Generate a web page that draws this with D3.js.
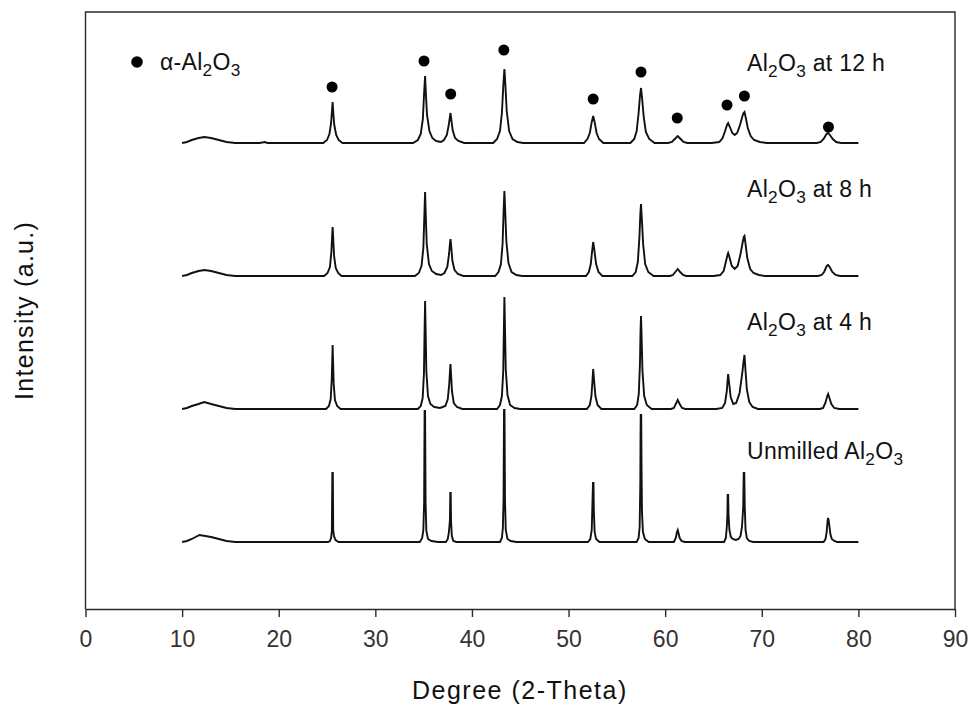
<!DOCTYPE html>
<html>
<head>
<meta charset="utf-8">
<script src="https://cdn.jsdelivr.net/npm/d3@7/dist/d3.min.js"></script>
<style>
  html, body { margin: 0; padding: 0; background: #ffffff; }
  svg { display: block; }
  text { font-family: "Liberation Sans", Arial, sans-serif; }
</style>
</head>
<body>
<svg id="chart" width="971" height="709"></svg>
<script>
// ---------- DATA (2-theta in degrees, intensity in a.u. above each pattern's baseline) ----------
const xTicks = [0, 10, 20, 30, 40, 50, 60, 70, 80, 90];

const pattern12h = [
  [10,0],[10.5,1],[11,3],[11.7,5],[12.3,6],[13,5],[13.8,3],[14.6,1],[15.5,0],[18,0],[18.6,1],[18.8,0],[22,0],
  [24.6,0],[25.0,3],[25.25,9],[25.42,20],[25.52,33],[25.58,41],[25.65,30],[25.75,18],[25.95,8],[26.2,3],[26.6,0],
  [28,0],[30,0],[33,0],
  [33.9,0],[34.4,3],[34.7,9],[34.92,24],[35.05,50],[35.15,67],[35.22,52],[35.35,28],[35.6,12],[35.9,5],[36.3,2],[36.8,1],
  [37.1,3],[37.4,8],[37.6,18],[37.72,26],[37.78,30],[37.86,24],[38.0,13],[38.25,5],[38.6,2],[39.2,0],
  [41,0],
  [42.2,0],[42.6,4],[42.9,12],[43.1,30],[43.25,58],[43.36,74],[43.45,60],[43.6,32],[43.85,12],[44.2,4],[44.7,1],[45.3,0],
  [48,0],[50.5,0],
  [51.6,0],[51.95,4],[52.2,10],[52.38,20],[52.55,27],[52.7,21],[52.9,10],[53.15,4],[53.6,0],
  [55.5,0],
  [56.4,0],[56.8,4],[57.05,12],[57.25,30],[57.4,48],[57.5,55],[57.6,46],[57.78,26],[58.0,11],[58.35,4],[58.9,0],
  [60.3,0],
  [60.7,1],[61.0,4],[61.3,7],[61.6,4],[61.9,1],[62.3,0],
  [64.8,0],
  [65.6,1],[65.95,5],[66.2,12],[66.4,18],[66.52,20],[66.7,16],[66.95,10],[67.2,8],[67.45,10],[67.75,18],[68.0,27],[68.12,30],[68.21,31],[68.35,25],[68.55,15],[68.85,7],[69.2,3],[69.8,1],[70.5,0],
  [74,0],[75.7,0],
  [76.1,1],[76.4,4],[76.7,9],[76.87,10],[77.05,8],[77.35,4],[77.7,1],[78.2,0],[80,0]
];

const pattern8h = [
  [10,0],[10.5,1],[11,3],[11.7,5],[12.3,6],[13,5],[13.8,3],[14.6,1],[15.5,0],[22,0],
  [24.7,0],[25.05,3],[25.3,9],[25.45,24],[25.53,40],[25.58,49],[25.64,38],[25.73,20],[25.9,8],[26.15,3],[26.5,0],
  [30,0],[33.5,0],
  [34.1,0],[34.5,3],[34.78,10],[34.97,28],[35.08,62],[35.15,84],[35.21,64],[35.32,32],[35.55,12],[35.85,5],[36.3,2],[36.8,1],
  [37.15,3],[37.45,9],[37.63,22],[37.73,33],[37.78,37],[37.85,30],[37.98,15],[38.2,6],[38.55,2],[39.1,0],
  [41.5,0],
  [42.4,0],[42.75,4],[43.0,12],[43.17,32],[43.28,65],[43.36,85],[43.43,68],[43.56,35],[43.78,13],[44.1,4],[44.6,1],[45.2,0],
  [50.8,0],
  [51.8,0],[52.1,4],[52.3,12],[52.44,25],[52.55,34],[52.67,26],[52.85,12],[53.1,4],[53.5,0],
  [56,0],
  [56.6,0],[56.95,4],[57.17,14],[57.33,38],[57.43,62],[57.5,72],[57.58,58],[57.72,32],[57.93,12],[58.25,4],[58.8,0],
  [60.5,0],
  [60.8,1],[61.05,4],[61.3,7],[61.55,4],[61.85,1],[62.2,0],
  [65,0],
  [65.7,1],[66.05,5],[66.28,14],[66.45,21],[66.52,23],[66.65,19],[66.9,10],[67.2,7],[67.5,10],[67.8,22],[68.03,34],[68.14,39],[68.21,40],[68.32,32],[68.5,18],[68.8,7],[69.15,3],[69.7,1],[70.3,0],
  [75.8,0],
  [76.2,1],[76.45,4],[76.72,10],[76.87,11],[77.03,9],[77.3,4],[77.65,1],[78.1,0],[80,0]
];

const pattern4h = [
  [10,0],[10.5,1],[11,3],[11.7,5],[12.3,7],[13,5],[13.8,3],[14.6,1],[15.5,0],[22,0],
  [24.9,0],[25.2,3],[25.38,10],[25.49,30],[25.55,52],[25.58,64],[25.62,50],[25.69,25],[25.82,9],[26.05,3],[26.4,0],
  [33.8,0],
  [34.4,0],[34.7,3],[34.9,11],[35.03,35],[35.1,80],[35.15,108],[35.2,82],[35.28,38],[35.45,13],[35.7,5],[36.1,2],[36.7,1],
  [37.25,3],[37.5,10],[37.65,25],[37.74,40],[37.78,45],[37.83,36],[37.93,18],[38.12,6],[38.45,2],[39,0],
  [42,0],
  [42.6,0],[42.9,4],[43.1,13],[43.24,38],[43.31,82],[43.36,112],[43.41,86],[43.5,40],[43.68,14],[43.95,4],[44.4,1],[45,0],
  [51.2,0],
  [51.9,0],[52.2,4],[52.37,13],[52.48,29],[52.55,40],[52.63,30],[52.78,13],[53.0,4],[53.4,0],
  [56.3,0],
  [56.8,0],[57.1,4],[57.27,15],[57.39,45],[57.45,78],[57.5,93],[57.55,76],[57.65,38],[57.83,13],[58.1,4],[58.6,0],
  [60.6,0],
  [60.9,1],[61.1,5],[61.3,9],[61.5,5],[61.75,1],[62.1,0],
  [65.3,0],
  [65.9,1],[66.2,6],[66.38,18],[66.48,31],[66.52,35],[66.6,28],[66.78,12],[67.05,5],[67.35,6],[67.7,16],[67.97,35],[68.12,48],[68.21,54],[68.29,42],[68.45,20],[68.7,7],[69.05,2],[69.6,0],
  [76,0],
  [76.35,1],[76.58,6],[76.78,13],[76.87,15],[76.97,12],[77.2,5],[77.5,1],[78,0],[80,0]
];

const patternUnmilled = [
  [10,0],[10.5,1],[11,3],[11.8,7],[12.4,6],[13,5],[13.8,3],[14.6,1],[15.5,0],[22,0],
  [25.1,0],[25.3,1],[25.42,4],[25.5,11],[25.55,69],[25.6,69],[25.64,12],[25.72,6],[25.88,2],[26.2,0],
  [34.6,0],[34.85,4],[34.97,12],[35.05,39],[35.1,131],[35.15,131],[35.2,40],[35.28,11],[35.45,3],[35.8,1],[36.5,0],
  [37.3,0],[37.5,3],[37.62,10],[37.72,22],[37.76,49],[37.8,49],[37.84,20],[37.92,6],[38.08,1],[38.4,0],
  [42.9,0],[43.1,4],[43.2,14],[43.27,42],[43.32,132],[43.37,132],[43.42,42],[43.5,12],[43.68,3],[44.0,1],[44.6,0],
  [52.0,0],[52.25,3],[52.4,12],[52.49,45],[52.53,59],[52.58,59],[52.62,30],[52.7,10],[52.85,3],[53.2,0],
  [57.05,0],[57.25,4],[57.36,15],[57.43,60],[57.45,105],[57.47,127],[57.52,127],[57.55,80],[57.6,30],[57.7,10],[57.9,3],[58.3,0],
  [60.9,0],[61.1,4],[61.22,10],[61.3,12],[61.38,9],[61.5,4],[61.7,1],[62.0,0],
  [66.1,0],[66.28,4],[66.38,15],[66.44,27],[66.47,47],[66.52,47],[66.56,27],[66.65,12],[66.8,5],[67.0,3],[67.3,2],[67.6,3],[67.8,6],[67.95,15],[68.08,35],[68.13,69],[68.19,69],[68.24,35],[68.32,12],[68.45,4],[68.7,1],[69.1,0],
  [76.4,0],[76.6,3],[76.72,10],[76.8,20],[76.86,24],[76.92,22],[77.0,16],[77.1,8],[77.25,3],[77.5,1],[77.8,0],[80,0]
];

// vertical offsets (a.u.) of each pattern's baseline
const patternOffsets = [466, 333, 200, 67];
const patternLabels = [
  { pre: "Al", sub1: "2", mid: "O", sub2: "3", post: " at 12 h" },
  { pre: "Al", sub1: "2", mid: "O", sub2: "3", post: " at 8 h" },
  { pre: "Al", sub1: "2", mid: "O", sub2: "3", post: " at 4 h" },
  { pre: "Unmilled Al", sub1: "2", mid: "O", sub2: "3", post: "" }
];
// alpha-Al2O3 reflection markers: [2-theta, a.u.]
const alphaMarkers = [
  [25.52, 522], [35.04, 548], [37.8, 515], [43.3, 559], [52.55, 510],
  [57.5, 537], [61.25, 491], [66.4, 504], [68.2, 513], [76.9, 482]
];

// ---------- CHART ----------
const svg = d3.select("#chart");
const mLeft = 85.5, mRight = 955, mTop = 12, mBottom = 609;
const labelBaselines = [71, 197, 330, 459];
const x = d3.scaleLinear().domain([0, 90]).range([mLeft, mRight]);
const y = d3.scaleLinear().domain([0, mBottom - mTop]).range([mBottom, mTop]);

const patterns = [pattern12h, pattern8h, pattern4h, patternUnmilled];

// frame (top, right, left)
svg.append("path")
  .attr("d", `M${mLeft},${mBottom}V${mTop}H${mRight}V${mBottom}`)
  .attr("fill", "none").attr("stroke", "#2a2a2a").attr("stroke-width", 1.4);

// x axis
const xAxis = d3.axisBottom(x).tickValues(xTicks).tickSize(8).tickPadding(14).tickSizeOuter(0);
const gx = svg.append("g").attr("transform", `translate(0,${mBottom})`).call(xAxis);
gx.select(".domain").attr("stroke", "#2a2a2a").attr("stroke-width", 1.6);
gx.selectAll(".tick line").attr("stroke", "#2a2a2a").attr("stroke-width", 1.4);
gx.selectAll(".tick text")
  .attr("font-family", "'Liberation Sans', Arial, sans-serif")
  .attr("font-size", 23).attr("fill", "#333");

// patterns
patterns.forEach((p, i) => {
  const line = d3.line().x(d => x(d[0])).y(d => y(d[1] + patternOffsets[i]));
  svg.append("path").datum(p)
    .attr("d", line)
    .attr("fill", "none").attr("stroke", "#111").attr("stroke-width", 1.9)
    .attr("stroke-linejoin", "miter");
});

// markers
svg.selectAll("circle.marker").data(alphaMarkers).enter().append("circle")
  .attr("class", "marker")
  .attr("cx", d => x(d[0])).attr("cy", d => y(d[1])).attr("r", 5.5).attr("fill", "#000");

// legend
svg.append("circle").attr("cx", 137).attr("cy", 62).attr("r", 5.8).attr("fill", "#000");
function chem(g, xPos, yPos, parts, size) {
  const t = g.append("text").attr("x", xPos).attr("y", yPos)
    .attr("font-size", size).attr("fill", "#111").attr("letter-spacing", 0.3);
  t.append("tspan").text(parts.pre);
  t.append("tspan").attr("font-size", size * 0.75).attr("dy", 6).text(parts.sub1);
  t.append("tspan").attr("dy", -6).text(parts.mid);
  t.append("tspan").attr("font-size", size * 0.75).attr("dy", 6).text(parts.sub2);
  if (parts.post) t.append("tspan").attr("dy", -6).text(parts.post);
  return t;
}
chem(svg, 160, 70, { pre: "α-Al", sub1: "2", mid: "O", sub2: "3", post: "" }, 23);

patternLabels.forEach((lab, i) => {
  chem(svg, 747, labelBaselines[i], lab, 23);
});

// axis titles
svg.append("text").attr("x", 412).attr("y", 699)
  .attr("font-size", 25).attr("letter-spacing", 1.5).attr("fill", "#111")
  .text("Degree (2-Theta)");
svg.append("text").attr("transform", "translate(33,400) rotate(-90)")
  .attr("font-size", 25).attr("letter-spacing", 1.3).attr("fill", "#111")
  .text("Intensity (a.u.)");
</script>
</body>
</html>
